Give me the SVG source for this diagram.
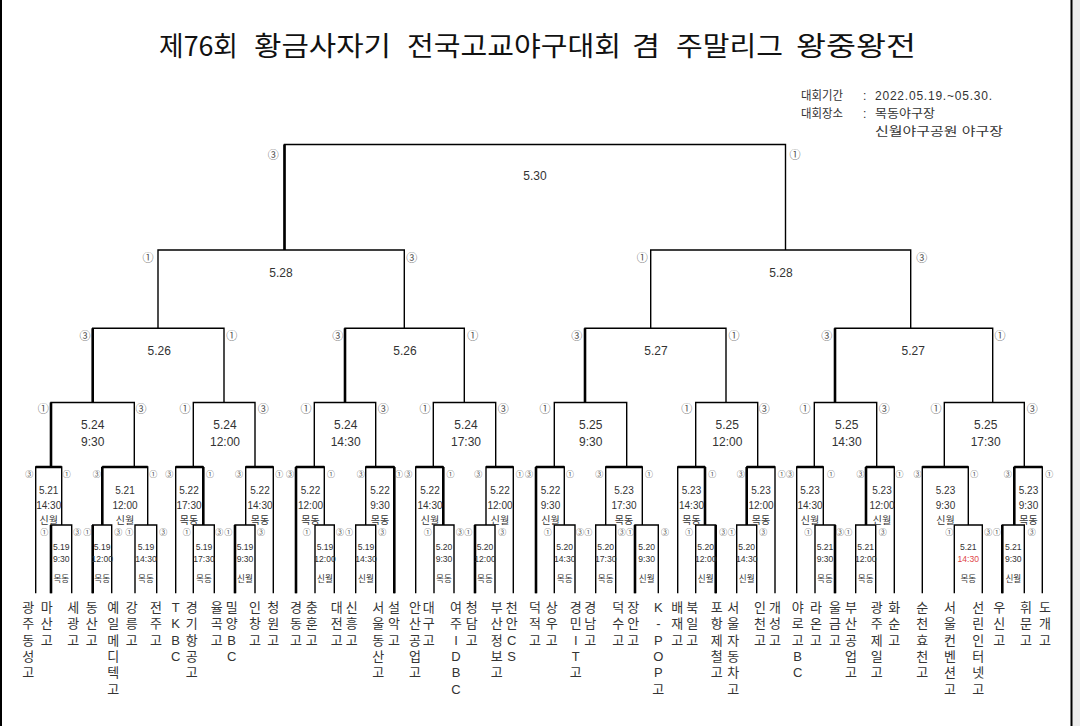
<svg xmlns="http://www.w3.org/2000/svg" width="1080" height="726" viewBox="0 0 1080 726">
<style>
text{font-family:"Liberation Sans","Noto Sans CJK KR",sans-serif;fill:#222}
.ln{fill:none;stroke:#000;stroke-width:1.4}
.tk{fill:none;stroke:#000;stroke-width:2.6}
.title{font-family:"Noto Sans CJK KR","Noto Sans",sans-serif;font-size:27px;fill:#111}
.info{font-size:12px;fill:#333}
.t1{font-size:12px;text-anchor:middle;fill:#333}
.t2{font-size:10px;text-anchor:middle;fill:#333}
.t3{font-size:8.6px;text-anchor:middle;fill:#333}
.red{fill:#e04848}
.c1{font-size:11px;text-anchor:middle;fill:#555}
.c2{font-size:8px;text-anchor:middle;fill:#555}
.tm{font-size:13px;text-anchor:middle;fill:#333}
</style>
<rect width="1080" height="726" fill="#fff"/>
<rect x="1072" y="0" width="8" height="726" fill="#ececec"/>
<line x1="1" y1="0" x2="1" y2="726" stroke="#000" stroke-width="2"/>
<line x1="1071.5" y1="0" x2="1071.5" y2="726" stroke="#000" stroke-width="2"/>

<g id="title">
<text class="title" y="56"><tspan x="159" textLength="79" lengthAdjust="spacingAndGlyphs">제76회</tspan><tspan x="254" textLength="137" lengthAdjust="spacingAndGlyphs">황금사자기</tspan><tspan x="407" textLength="214" lengthAdjust="spacingAndGlyphs">전국고교야구대회</tspan><tspan x="632" textLength="28" lengthAdjust="spacingAndGlyphs">겸</tspan><tspan x="676" textLength="107" lengthAdjust="spacingAndGlyphs">주말리그</tspan><tspan x="796" textLength="120" lengthAdjust="spacingAndGlyphs">왕중왕전</tspan></text>
</g>
<g id="info">
<text class="info" x="801" y="100" textLength="42" lengthAdjust="spacingAndGlyphs">대회기간</text>
<text class="info" x="863" y="100">:</text>
<text class="info" x="875" y="100" textLength="117" lengthAdjust="spacing">2022.05.19.~05.30.</text>
<text class="info" x="801" y="118" textLength="42" lengthAdjust="spacingAndGlyphs">대회장소</text>
<text class="info" x="863" y="118">:</text>
<text class="info" x="875" y="118" textLength="60" lengthAdjust="spacingAndGlyphs">목동야구장</text>
<text class="info" x="875" y="136" textLength="128" lengthAdjust="spacingAndGlyphs">신월야구공원 야구장</text>
</g>

<g id="connectors">
<path class="ln" d="M284.5 250V144.5H785.5V250"/>
<path class="ln" d="M158 328.3V250H404.3V328.3"/>
<path class="ln" d="M650.7 328.3V250H910.7V328.3"/>
<path class="ln" d="M92.7 402.5V328.3H224V402.5"/>
<path class="ln" d="M345 402.5V328.3H464.3V402.5"/>
<path class="ln" d="M585 402.5V328.3H726V402.5"/>
<path class="ln" d="M835 402.5V328.3H992.7V402.5"/>
<path class="ln" d="M51 467V402.5H134.3V467"/>
<path class="ln" d="M193.3 467V402.5H255V467"/>
<path class="ln" d="M314.3 467V402.5H375.7V467"/>
<path class="ln" d="M433.3 467V402.5H495.7V467"/>
<path class="ln" d="M554.3 467V402.5H626.7V467"/>
<path class="ln" d="M695.7 467V402.5H757.7V467"/>
<path class="ln" d="M814.3 467V402.5H876.7V467"/>
<path class="ln" d="M944.3 467V402.5H1024.3V467"/>
<path class="ln" d="M35.7 593.3V467H61.7V525"/>
<path class="ln" d="M102.3 525V467H147.7V525"/>
<path class="ln" d="M175.7 593.3V467H203.3V525"/>
<path class="ln" d="M245.7 525V467H273.3V593.3"/>
<path class="ln" d="M296 593.3V467H324.3V525"/>
<path class="ln" d="M365.7 525V467H394.3V593.3"/>
<path class="ln" d="M415.7 593.3V467H443.3V525"/>
<path class="ln" d="M486 525V467H513.3V593.3"/>
<path class="ln" d="M536 593.3V467H564.3V525"/>
<path class="ln" d="M605.7 525V467H642.3V525"/>
<path class="ln" d="M677.7 593.3V467H705V525"/>
<path class="ln" d="M746.7 525V467H775V593.3"/>
<path class="ln" d="M796.7 593.3V467H823.3V525"/>
<path class="ln" d="M866 525V467H894.3V593.3"/>
<path class="ln" d="M922.3 593.3V467H968.3V525"/>
<path class="ln" d="M1014.3 525V467H1042.3V593.3"/>
<path class="ln" d="M51 593.3V525H71.7V593.3"/>
<path class="ln" d="M92.7 593.3V525H111.7V593.3"/>
<path class="ln" d="M135 593.3V525H156.7V593.3"/>
<path class="ln" d="M193.3 593.3V525H214.3V593.3"/>
<path class="ln" d="M235 593.3V525H255V593.3"/>
<path class="ln" d="M315 593.3V525H334.3V593.3"/>
<path class="ln" d="M355.7 593.3V525H375.7V593.3"/>
<path class="ln" d="M434 593.3V525H454V593.3"/>
<path class="ln" d="M475 593.3V525H495V593.3"/>
<path class="ln" d="M554.3 593.3V525H575V593.3"/>
<path class="ln" d="M595.7 593.3V525H615.7V593.3"/>
<path class="ln" d="M635 593.3V525H658.3V593.3"/>
<path class="ln" d="M695.7 593.3V525H715.7V593.3"/>
<path class="ln" d="M736.7 593.3V525H756.7V593.3"/>
<path class="ln" d="M815 593.3V525H835V593.3"/>
<path class="ln" d="M855.7 593.3V525H875.7V593.3"/>
<path class="ln" d="M954.3 593.3V525H982.3V593.3"/>
<path class="ln" d="M1002.3 593.3V525H1024.3V593.3"/>
<path class="tk" d="M284.5 144.5V250M92.7 328.3V402.5M345 328.3V402.5M585 328.3V402.5M835 328.3V402.5M51 402.5V467"/>
<path class="tk" d="M35.7 467H61.7M102.3 467H147.7M175.7 467H203.3M245.7 467H273.3M296 467H324.3M365.7 467H394.3M415.7 467H443.3M486 467H513.3M536 467H564.3M605.7 467H642.3M677.7 467H705M746.7 467H775M796.7 467H823.3M866 467H894.3M922.3 467H968.3M1014.3 467H1042.3"/>
<path class="tk" d="M102.3 467V525M203.3 467V525M296 467V593.3M394.3 467V593.3M443.3 467V525M536 467V593.3M705 467V525M746.7 467V525M866 467V525M1014.3 467V525"/>
<path class="tk" d="M51 525V593.3M92.7 525V593.3M235 525V593.3M475 525V593.3M635 525V593.3M715.7 525V593.3M835 525V593.3M1002.3 525V593.3"/>
</g>

<g id="final"><text class="t1" x="535" y="179.5">5.30</text><text class="c1" x="273.3" y="159.3">③</text><text class="c1" x="795" y="159.3">①</text></g>
<g id="sf-l"><text class="t1" x="281" y="277">5.28</text><text class="c1" x="148" y="262.3">①</text><text class="c1" x="411.7" y="262.3">③</text></g>
<g id="sf-r"><text class="t1" x="781" y="277">5.28</text><text class="c1" x="642.3" y="262.3">①</text><text class="c1" x="921.7" y="262.3">③</text></g>
<g id="qf-1"><text class="t1" x="159.3" y="354.5">5.26</text><text class="c1" x="85" y="339.7">③</text><text class="c1" x="231.7" y="339.7">①</text></g>
<g id="qf-2"><text class="t1" x="405" y="354.5">5.26</text><text class="c1" x="337.7" y="339.7">③</text><text class="c1" x="472.7" y="339.7">①</text></g>
<g id="qf-3"><text class="t1" x="656" y="354.5">5.27</text><text class="c1" x="576.7" y="339.7">③</text><text class="c1" x="734" y="339.7">①</text></g>
<g id="qf-4"><text class="t1" x="913.3" y="354.5">5.27</text><text class="c1" x="826.7" y="339.7">③</text><text class="c1" x="1000" y="339.7">①</text></g>

<g id="r16-1"><text class="t1" x="92.7" y="429.3">5.24</text><text class="t1" x="92.7" y="445.5">9:30</text><text class="c1" x="43.3" y="413">①</text><text class="c1" x="141" y="413">③</text></g>
<g id="r16-2"><text class="t1" x="225" y="429.3">5.24</text><text class="t1" x="225" y="445.5">12:00</text><text class="c1" x="185" y="413">①</text><text class="c1" x="263.3" y="413">③</text></g>
<g id="r16-3"><text class="t1" x="345.7" y="429.3">5.24</text><text class="t1" x="345.7" y="445.5">14:30</text><text class="c1" x="306" y="413">①</text><text class="c1" x="383.3" y="413">③</text></g>
<g id="r16-4"><text class="t1" x="466" y="429.3">5.24</text><text class="t1" x="466" y="445.5">17:30</text><text class="c1" x="425" y="413">①</text><text class="c1" x="503.3" y="413">③</text></g>
<g id="r16-5"><text class="t1" x="590.7" y="429.3">5.25</text><text class="t1" x="590.7" y="445.5">9:30</text><text class="c1" x="545" y="413">①</text></g>
<g id="r16-6"><text class="t1" x="727.3" y="429.3">5.25</text><text class="t1" x="727.3" y="445.5">12:00</text><text class="c1" x="686.7" y="413">①</text><text class="c1" x="764.3" y="413">③</text></g>
<g id="r16-7"><text class="t1" x="846.7" y="429.3">5.25</text><text class="t1" x="846.7" y="445.5">14:30</text><text class="c1" x="805" y="413">①</text><text class="c1" x="884.3" y="413">③</text></g>
<g id="r16-8"><text class="t1" x="985.7" y="429.3">5.25</text><text class="t1" x="985.7" y="445.5">17:30</text><text class="c1" x="936" y="413">①</text><text class="c1" x="1032.3" y="413">③</text></g>

<g id="r32-a"><text class="t2" x="48.7" y="493.8">5.21</text><text class="t2" x="48.7" y="508.8">14:30</text><text class="t2" x="48.7" y="524">신월</text><text class="c2" x="29.3" y="476.5">③</text><text class="c2" x="66.7" y="476.5">①</text></g>
<g id="r32-b"><text class="t2" x="125" y="493.8">5.21</text><text class="t2" x="125" y="508.8">12:00</text><text class="t2" x="125" y="524">신월</text><text class="c2" x="96.7" y="476.5">③</text><text class="c2" x="153.3" y="476.5">①</text></g>
<g id="r32-c"><text class="t2" x="189" y="493.8">5.22</text><text class="t2" x="189" y="508.8">17:30</text><text class="t2" x="189" y="524">목동</text><text class="c2" x="169.3" y="476.5">③</text><text class="c2" x="210" y="476.5">①</text></g>
<g id="r32-d"><text class="t2" x="260" y="493.8">5.22</text><text class="t2" x="260" y="508.8">14:30</text><text class="t2" x="260" y="524">목동</text><text class="c2" x="239" y="476.5">③</text><text class="c2" x="279.3" y="476.5">①</text></g>
<g id="r32-e"><text class="t2" x="310.5" y="493.8">5.22</text><text class="t2" x="310.5" y="508.8">12:00</text><text class="t2" x="310.5" y="524">목동</text><text class="c2" x="290" y="476.5">③</text><text class="c2" x="331" y="476.5">①</text></g>
<g id="r32-f"><text class="t2" x="380" y="493.8">5.22</text><text class="t2" x="380" y="508.8">9:30</text><text class="t2" x="380" y="524">목동</text><text class="c2" x="360.7" y="476.5">③</text><text class="c2" x="399" y="476.5">①</text></g>
<g id="r32-g"><text class="t2" x="430" y="493.8">5.22</text><text class="t2" x="430" y="508.8">14:30</text><text class="t2" x="430" y="524">신월</text><text class="c2" x="408.3" y="476.5">③</text><text class="c2" x="450.5" y="476.5">①</text></g>
<g id="r32-h"><text class="t2" x="500" y="493.8">5.22</text><text class="t2" x="500" y="508.8">12:00</text><text class="t2" x="500" y="524">신월</text><text class="c2" x="478.3" y="476.5">③</text><text class="c2" x="519.7" y="476.5">①</text></g>
<g id="r32-i"><text class="t2" x="550.5" y="493.8">5.22</text><text class="t2" x="550.5" y="508.8">9:30</text><text class="t2" x="550.5" y="524">신월</text><text class="c2" x="529" y="476.5">③</text><text class="c2" x="570" y="476.5">①</text></g>
<g id="r32-j"><text class="t2" x="624" y="493.8">5.23</text><text class="t2" x="624" y="508.8">17:30</text><text class="t2" x="624" y="524">목동</text><text class="c2" x="599.3" y="476.5">③</text><text class="c2" x="649" y="476.5">①</text></g>
<g id="r32-k"><text class="t2" x="691.5" y="493.8">5.23</text><text class="t2" x="691.5" y="508.8">14:30</text><text class="t2" x="691.5" y="524">목동</text><text class="c2" x="712.3" y="476.5">①</text></g>
<g id="r32-l"><text class="t2" x="761" y="493.8">5.23</text><text class="t2" x="761" y="508.8">12:00</text><text class="t2" x="761" y="524">목동</text><text class="c2" x="740.7" y="476.5">③</text><text class="c2" x="781.7" y="476.5">①</text></g>
<g id="r32-m"><text class="t2" x="810" y="493.8">5.23</text><text class="t2" x="810" y="508.8">14:30</text><text class="t2" x="810" y="524">신월</text><text class="c2" x="790" y="476.5">③</text><text class="c2" x="831" y="476.5">①</text></g>
<g id="r32-n"><text class="t2" x="882" y="493.8">5.23</text><text class="t2" x="882" y="508.8">12:00</text><text class="t2" x="882" y="524">신월</text><text class="c2" x="860.5" y="476.5">③</text><text class="c2" x="899.5" y="476.5">①</text></g>
<g id="r32-o"><text class="t2" x="945.5" y="493.8">5.23</text><text class="t2" x="945.5" y="508.8">9:30</text><text class="t2" x="945.5" y="524">신월</text><text class="c2" x="917.5" y="476.5">③</text><text class="c2" x="974.3" y="476.5">①</text></g>
<g id="r32-p"><text class="t2" x="1028.5" y="493.8">5.23</text><text class="t2" x="1028.5" y="508.8">9:30</text><text class="t2" x="1028.5" y="524">목동</text><text class="c2" x="1007.7" y="476.5">③</text><text class="c2" x="1049.3" y="476.5">①</text></g>

<g id="r64-a1"><text class="t3" x="61.3" y="550">5.19</text><text class="t3" x="61.3" y="562.3">9:30</text><text class="t3" x="61.3" y="581.6">목동</text><text class="c2" x="44.3" y="535">①</text><text class="c2" x="77.3" y="535">③</text></g>
<g id="r64-b1"><text class="t3" x="102.2" y="550">5.19</text><text class="t3" x="102.2" y="562.3">12:00</text><text class="t3" x="102.2" y="581.6">목동</text><text class="c2" x="87.3" y="535">①</text><text class="c2" x="118.3" y="535">③</text></g>
<g id="r64-b2"><text class="t3" x="146" y="550">5.19</text><text class="t3" x="146" y="562.3">14:30</text><text class="t3" x="146" y="581.6">목동</text><text class="c2" x="129.3" y="535">①</text><text class="c2" x="163.3" y="535">③</text></g>
<g id="r64-c1"><text class="t3" x="204" y="550">5.19</text><text class="t3" x="204" y="562.3">17:30</text><text class="t3" x="204" y="581.6">목동</text><text class="c2" x="186.7" y="535">①</text><text class="c2" x="219.3" y="535">③</text></g>
<g id="r64-d1"><text class="t3" x="245" y="550">5.19</text><text class="t3" x="245" y="562.3">9:30</text><text class="t3" x="245" y="581.6">신월</text><text class="c2" x="228.3" y="535">①</text><text class="c2" x="261" y="535">③</text></g>
<g id="r64-e1"><text class="t3" x="325" y="550">5.19</text><text class="t3" x="325" y="562.3">12:00</text><text class="t3" x="325" y="581.6">신월</text><text class="c2" x="306.7" y="535">①</text><text class="c2" x="340" y="535">③</text></g>
<g id="r64-f1"><text class="t3" x="366" y="550">5.19</text><text class="t3" x="366" y="562.3">14:30</text><text class="t3" x="366" y="581.6">신월</text><text class="c2" x="349" y="535">①</text><text class="c2" x="382.3" y="535">③</text></g>
<g id="r64-g1"><text class="t3" x="444" y="550">5.20</text><text class="t3" x="444" y="562.3">9:30</text><text class="t3" x="444" y="581.6">목동</text><text class="c2" x="427.7" y="535">①</text><text class="c2" x="460" y="535">③</text></g>
<g id="r64-h1"><text class="t3" x="485" y="550">5.20</text><text class="t3" x="485" y="562.3">12:00</text><text class="t3" x="485" y="581.6">목동</text><text class="c2" x="468.3" y="535">①</text><text class="c2" x="502.3" y="535">③</text></g>
<g id="r64-i1"><text class="t3" x="564.7" y="550">5.20</text><text class="t3" x="564.7" y="562.3">14:30</text><text class="t3" x="564.7" y="581.6">목동</text><text class="c2" x="547.7" y="535">①</text><text class="c2" x="580" y="535">③</text></g>
<g id="r64-j1"><text class="t3" x="605.7" y="550">5.20</text><text class="t3" x="605.7" y="562.3">17:30</text><text class="t3" x="605.7" y="581.6">목동</text><text class="c2" x="588.3" y="535">①</text><text class="c2" x="621.7" y="535">③</text></g>
<g id="r64-j2"><text class="t3" x="646.7" y="550">5.20</text><text class="t3" x="646.7" y="562.3">9:30</text><text class="t3" x="646.7" y="581.6">신월</text><text class="c2" x="630" y="535">①</text><text class="c2" x="665" y="535">③</text></g>
<g id="r64-k1"><text class="t3" x="705.7" y="550">5.20</text><text class="t3" x="705.7" y="562.3">12:00</text><text class="t3" x="705.7" y="581.6">신월</text><text class="c2" x="689" y="535">①</text><text class="c2" x="723.3" y="535">③</text></g>
<g id="r64-l1"><text class="t3" x="746.7" y="550">5.20</text><text class="t3" x="746.7" y="562.3">14:30</text><text class="t3" x="746.7" y="581.6">신월</text><text class="c2" x="731.7" y="535">①</text><text class="c2" x="763.3" y="535">③</text></g>
<g id="r64-m1"><text class="t3" x="825" y="550">5.21</text><text class="t3" x="825" y="562.3">9:30</text><text class="t3" x="825" y="581.6">목동</text><text class="c2" x="808.3" y="535">①</text><text class="c2" x="840" y="535">③</text></g>
<g id="r64-n1"><text class="t3" x="865.7" y="550">5.21</text><text class="t3" x="865.7" y="562.3">12:00</text><text class="t3" x="865.7" y="581.6">목동</text><text class="c2" x="848.3" y="535">①</text><text class="c2" x="882.7" y="535">③</text></g>
<g id="r64-o1"><text class="t3" x="968.3" y="550">5.21</text><text class="t3 red" x="968.3" y="562.3">14:30</text><text class="t3" x="968.3" y="581.6">목동</text><text class="c2" x="949.3" y="535">①</text><text class="c2" x="988.3" y="535">③</text></g>
<g id="r64-p1"><text class="t3" x="1013.3" y="550">5.21</text><text class="t3" x="1013.3" y="562.3">9:30</text><text class="t3" x="1013.3" y="581.6">신월</text><text class="c2" x="996.7" y="535">①</text><text class="c2" x="1031.7" y="535">③</text></g>

<g id="teams">
<g id="team-01"><text class="tm"><tspan x="28.3" y="611.7">광</tspan><tspan x="28.3" y="628.1">주</tspan><tspan x="28.3" y="644.5">동</tspan><tspan x="28.3" y="660.9">성</tspan><tspan x="28.3" y="677.3">고</tspan></text></g>
<g id="team-02"><text class="tm"><tspan x="46.7" y="611.7">마</tspan><tspan x="46.7" y="628.1">산</tspan><tspan x="46.7" y="644.5">고</tspan></text></g>
<g id="team-03"><text class="tm"><tspan x="73.3" y="611.7">세</tspan><tspan x="73.3" y="628.1">광</tspan><tspan x="73.3" y="644.5">고</tspan></text></g>
<g id="team-04"><text class="tm"><tspan x="91.7" y="611.7">동</tspan><tspan x="91.7" y="628.1">산</tspan><tspan x="91.7" y="644.5">고</tspan></text></g>
<g id="team-05"><text class="tm"><tspan x="113.3" y="611.7">예</tspan><tspan x="113.3" y="628.1">일</tspan><tspan x="113.3" y="644.5">메</tspan><tspan x="113.3" y="660.9">디</tspan><tspan x="113.3" y="677.3">텍</tspan><tspan x="113.3" y="693.7">고</tspan></text></g>
<g id="team-06"><text class="tm"><tspan x="131.7" y="611.7">강</tspan><tspan x="131.7" y="628.1">릉</tspan><tspan x="131.7" y="644.5">고</tspan></text></g>
<g id="team-07"><text class="tm"><tspan x="156" y="611.7">전</tspan><tspan x="156" y="628.1">주</tspan><tspan x="156" y="644.5">고</tspan></text></g>
<g id="team-08"><text class="tm"><tspan x="175.7" y="611.7">T</tspan><tspan x="175.7" y="628.1">K</tspan><tspan x="175.7" y="644.5">B</tspan><tspan x="175.7" y="660.9">C</tspan></text></g>
<g id="team-09"><text class="tm"><tspan x="191.7" y="611.7">경</tspan><tspan x="191.7" y="628.1">기</tspan><tspan x="191.7" y="644.5">항</tspan><tspan x="191.7" y="660.9">공</tspan><tspan x="191.7" y="677.3">고</tspan></text></g>
<g id="team-10"><text class="tm"><tspan x="216.7" y="611.7">율</tspan><tspan x="216.7" y="628.1">곡</tspan><tspan x="216.7" y="644.5">고</tspan></text></g>
<g id="team-11"><text class="tm"><tspan x="231.7" y="611.7">밀</tspan><tspan x="231.7" y="628.1">양</tspan><tspan x="231.7" y="644.5">B</tspan><tspan x="231.7" y="660.9">C</tspan></text></g>
<g id="team-12"><text class="tm"><tspan x="255" y="611.7">인</tspan><tspan x="255" y="628.1">창</tspan><tspan x="255" y="644.5">고</tspan></text></g>
<g id="team-13"><text class="tm"><tspan x="273.3" y="611.7">청</tspan><tspan x="273.3" y="628.1">원</tspan><tspan x="273.3" y="644.5">고</tspan></text></g>
<g id="team-14"><text class="tm"><tspan x="296" y="611.7">경</tspan><tspan x="296" y="628.1">동</tspan><tspan x="296" y="644.5">고</tspan></text></g>
<g id="team-15"><text class="tm"><tspan x="311.7" y="611.7">충</tspan><tspan x="311.7" y="628.1">훈</tspan><tspan x="311.7" y="644.5">고</tspan></text></g>
<g id="team-16"><text class="tm"><tspan x="336.7" y="611.7">대</tspan><tspan x="336.7" y="628.1">전</tspan><tspan x="336.7" y="644.5">고</tspan></text></g>
<g id="team-17"><text class="tm"><tspan x="351.7" y="611.7">신</tspan><tspan x="351.7" y="628.1">흥</tspan><tspan x="351.7" y="644.5">고</tspan></text></g>
<g id="team-18"><text class="tm"><tspan x="378.3" y="611.7">서</tspan><tspan x="378.3" y="628.1">울</tspan><tspan x="378.3" y="644.5">동</tspan><tspan x="378.3" y="660.9">산</tspan><tspan x="378.3" y="677.3">고</tspan></text></g>
<g id="team-19"><text class="tm"><tspan x="394" y="611.7">설</tspan><tspan x="394" y="628.1">악</tspan><tspan x="394" y="644.5">고</tspan></text></g>
<g id="team-20"><text class="tm"><tspan x="415" y="611.7">안</tspan><tspan x="415" y="628.1">산</tspan><tspan x="415" y="644.5">공</tspan><tspan x="415" y="660.9">업</tspan><tspan x="415" y="677.3">고</tspan></text></g>
<g id="team-21"><text class="tm"><tspan x="428.8" y="611.7">대</tspan><tspan x="428.8" y="628.1">구</tspan><tspan x="428.8" y="644.5">고</tspan></text></g>
<g id="team-22"><text class="tm"><tspan x="456" y="611.7">여</tspan><tspan x="456" y="628.1">주</tspan><tspan x="456" y="644.5">I</tspan><tspan x="456" y="660.9">D</tspan><tspan x="456" y="677.3">B</tspan><tspan x="456" y="693.7">C</tspan></text></g>
<g id="team-23"><text class="tm"><tspan x="471.7" y="611.7">청</tspan><tspan x="471.7" y="628.1">담</tspan><tspan x="471.7" y="644.5">고</tspan></text></g>
<g id="team-24"><text class="tm"><tspan x="496.7" y="611.7">부</tspan><tspan x="496.7" y="628.1">산</tspan><tspan x="496.7" y="644.5">정</tspan><tspan x="496.7" y="660.9">보</tspan><tspan x="496.7" y="677.3">고</tspan></text></g>
<g id="team-25"><text class="tm"><tspan x="511.7" y="611.7">천</tspan><tspan x="511.7" y="628.1">안</tspan><tspan x="511.7" y="644.5">C</tspan><tspan x="511.7" y="660.9">S</tspan></text></g>
<g id="team-26"><text class="tm"><tspan x="535" y="611.7">덕</tspan><tspan x="535" y="628.1">적</tspan><tspan x="535" y="644.5">고</tspan></text></g>
<g id="team-27"><text class="tm"><tspan x="551.7" y="611.7">상</tspan><tspan x="551.7" y="628.1">우</tspan><tspan x="551.7" y="644.5">고</tspan></text></g>
<g id="team-28"><text class="tm"><tspan x="575.7" y="611.7">경</tspan><tspan x="575.7" y="628.1">민</tspan><tspan x="575.7" y="644.5">I</tspan><tspan x="575.7" y="660.9">T</tspan><tspan x="575.7" y="677.3">고</tspan></text></g>
<g id="team-29"><text class="tm"><tspan x="590.3" y="611.7">경</tspan><tspan x="590.3" y="628.1">남</tspan><tspan x="590.3" y="644.5">고</tspan></text></g>
<g id="team-30"><text class="tm"><tspan x="618.3" y="611.7">덕</tspan><tspan x="618.3" y="628.1">수</tspan><tspan x="618.3" y="644.5">고</tspan></text></g>
<g id="team-31"><text class="tm"><tspan x="633.3" y="611.7">장</tspan><tspan x="633.3" y="628.1">안</tspan><tspan x="633.3" y="644.5">고</tspan></text></g>
<g id="team-32"><text class="tm"><tspan x="658.3" y="611.7">K</tspan><tspan x="658.3" y="628.1">-</tspan><tspan x="658.3" y="644.5">P</tspan><tspan x="658.3" y="660.9">O</tspan><tspan x="658.3" y="677.3">P</tspan><tspan x="658.3" y="693.7">고</tspan></text></g>
<g id="team-33"><text class="tm"><tspan x="677.3" y="611.7">배</tspan><tspan x="677.3" y="628.1">재</tspan><tspan x="677.3" y="644.5">고</tspan></text></g>
<g id="team-34"><text class="tm"><tspan x="692.3" y="611.7">북</tspan><tspan x="692.3" y="628.1">일</tspan><tspan x="692.3" y="644.5">고</tspan></text></g>
<g id="team-35"><text class="tm"><tspan x="716.7" y="611.7">포</tspan><tspan x="716.7" y="628.1">항</tspan><tspan x="716.7" y="644.5">제</tspan><tspan x="716.7" y="660.9">철</tspan><tspan x="716.7" y="677.3">고</tspan></text></g>
<g id="team-36"><text class="tm"><tspan x="733.3" y="611.7">서</tspan><tspan x="733.3" y="628.1">울</tspan><tspan x="733.3" y="644.5">자</tspan><tspan x="733.3" y="660.9">동</tspan><tspan x="733.3" y="677.3">차</tspan><tspan x="733.3" y="693.7">고</tspan></text></g>
<g id="team-37"><text class="tm"><tspan x="760" y="611.7">인</tspan><tspan x="760" y="628.1">천</tspan><tspan x="760" y="644.5">고</tspan></text></g>
<g id="team-38"><text class="tm"><tspan x="775" y="611.7">개</tspan><tspan x="775" y="628.1">성</tspan><tspan x="775" y="644.5">고</tspan></text></g>
<g id="team-39"><text class="tm"><tspan x="797.7" y="611.7">야</tspan><tspan x="797.7" y="628.1">로</tspan><tspan x="797.7" y="644.5">고</tspan><tspan x="797.7" y="660.9">B</tspan><tspan x="797.7" y="677.3">C</tspan></text></g>
<g id="team-40"><text class="tm"><tspan x="816" y="611.7">라</tspan><tspan x="816" y="628.1">온</tspan><tspan x="816" y="644.5">고</tspan></text></g>
<g id="team-41"><text class="tm"><tspan x="835" y="611.7">울</tspan><tspan x="835" y="628.1">금</tspan><tspan x="835" y="644.5">고</tspan></text></g>
<g id="team-42"><text class="tm"><tspan x="851" y="611.7">부</tspan><tspan x="851" y="628.1">산</tspan><tspan x="851" y="644.5">공</tspan><tspan x="851" y="660.9">업</tspan><tspan x="851" y="677.3">고</tspan></text></g>
<g id="team-43"><text class="tm"><tspan x="876.7" y="611.7">광</tspan><tspan x="876.7" y="628.1">주</tspan><tspan x="876.7" y="644.5">제</tspan><tspan x="876.7" y="660.9">일</tspan><tspan x="876.7" y="677.3">고</tspan></text></g>
<g id="team-44"><text class="tm"><tspan x="894.3" y="611.7">화</tspan><tspan x="894.3" y="628.1">순</tspan><tspan x="894.3" y="644.5">고</tspan></text></g>
<g id="team-45"><text class="tm"><tspan x="922.3" y="611.7">순</tspan><tspan x="922.3" y="628.1">천</tspan><tspan x="922.3" y="644.5">효</tspan><tspan x="922.3" y="660.9">천</tspan><tspan x="922.3" y="677.3">고</tspan></text></g>
<g id="team-46"><text class="tm"><tspan x="950" y="611.7">서</tspan><tspan x="950" y="628.1">울</tspan><tspan x="950" y="644.5">컨</tspan><tspan x="950" y="660.9">벤</tspan><tspan x="950" y="677.3">션</tspan><tspan x="950" y="693.7">고</tspan></text></g>
<g id="team-47"><text class="tm"><tspan x="978.3" y="611.7">선</tspan><tspan x="978.3" y="628.1">린</tspan><tspan x="978.3" y="644.5">인</tspan><tspan x="978.3" y="660.9">터</tspan><tspan x="978.3" y="677.3">넷</tspan><tspan x="978.3" y="693.7">고</tspan></text></g>
<g id="team-48"><text class="tm"><tspan x="999.3" y="611.7">우</tspan><tspan x="999.3" y="628.1">신</tspan><tspan x="999.3" y="644.5">고</tspan></text></g>
<g id="team-49"><text class="tm"><tspan x="1026" y="611.7">휘</tspan><tspan x="1026" y="628.1">문</tspan><tspan x="1026" y="644.5">고</tspan></text></g>
<g id="team-50"><text class="tm"><tspan x="1045" y="611.7">도</tspan><tspan x="1045" y="628.1">개</tspan><tspan x="1045" y="644.5">고</tspan></text></g>
</g>
</svg>
